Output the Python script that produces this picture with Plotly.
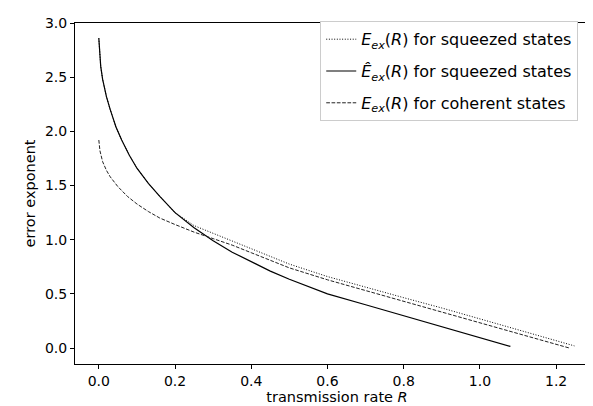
import plotly.graph_objects as go

# E_hat_ex(R) for squeezed states (solid)
r_hat_sq = [0, 0.002, 0.005, 0.01, 0.02, 0.03, 0.045, 0.06, 0.08, 0.1, 0.13, 0.16, 0.2, 0.25, 0.3, 0.35, 0.4, 0.45, 0.5, 0.55, 0.6, 0.7, 0.8, 0.9, 1.0, 1.08]
e_hat_sq = [2.86, 2.72, 2.6, 2.48, 2.32, 2.2, 2.04, 1.92, 1.78, 1.66, 1.52, 1.40, 1.25, 1.11, 0.99, 0.885, 0.795, 0.71, 0.635, 0.565, 0.50, 0.40, 0.298, 0.196, 0.094, 0.015]

# E_ex(R) for squeezed states (dotted)
r_sq = [0, 0.002, 0.005, 0.01, 0.02, 0.03, 0.045, 0.06, 0.08, 0.1, 0.13, 0.16, 0.2, 0.25, 0.3, 0.35, 0.4, 0.45, 0.5, 0.6, 0.7, 0.8, 0.9, 1.0, 1.1, 1.2, 1.248]
e_sq = [2.86, 2.72, 2.6, 2.48, 2.32, 2.2, 2.04, 1.92, 1.78, 1.66, 1.52, 1.40, 1.25, 1.13, 1.06, 0.985, 0.915, 0.845, 0.775, 0.66, 0.56, 0.465, 0.37, 0.27, 0.17, 0.07, 0.02]

# E_ex(R) for coherent states (dashed)
r_coh = [0, 0.003, 0.01, 0.02, 0.03, 0.05, 0.075, 0.1, 0.13, 0.16, 0.2, 0.25, 0.3, 0.35, 0.4, 0.45, 0.5, 0.6, 0.7, 0.8, 0.9, 1.0, 1.1, 1.2, 1.235]
e_coh = [1.92, 1.82, 1.72, 1.64, 1.58, 1.49, 1.40, 1.33, 1.26, 1.20, 1.14, 1.07, 1.01, 0.95, 0.88, 0.81, 0.74, 0.63, 0.53, 0.43, 0.33, 0.23, 0.13, 0.035, 0.0]

x_ticks = [0.0, 0.2, 0.4, 0.6, 0.8, 1.0, 1.2]
y_ticks = [0.0, 0.5, 1.0, 1.5, 2.0, 2.5, 3.0]

FONT = "DejaVu Sans"
FS_TICK = 14
FS_TITLE = 14.5
FS_LEG = 16

fig = go.Figure()
fig.add_trace(go.Scatter(
    x=r_sq, y=e_sq, mode="lines", legendgroup="a",
    name="<i>E</i><sub><i>ex</i></sub>(<i>R</i>) for squeezed states",
    line=dict(color="black", width=1, dash="1px,1.65px")))
fig.add_trace(go.Scatter(
    x=r_hat_sq, y=e_hat_sq, mode="lines", legendgroup="b",
    name="<i>Ê</i><sub><i>ex</i></sub>(<i>R</i>) for squeezed states",
    line=dict(color="black", width=1.2)))
fig.add_trace(go.Scatter(
    x=r_coh, y=e_coh, mode="lines", legendgroup="c",
    name="<i>E</i><sub><i>ex</i></sub>(<i>R</i>) for coherent states",
    line=dict(color="#222222", width=1, dash="3.7px,1.6px")))

axis_common = dict(
    showline=True, linecolor="black", linewidth=1, mirror=True,
    ticks="outside", ticklen=4, tickwidth=1, tickcolor="black",
    showgrid=False, zeroline=False, tickformat=".1f",
    tickfont=dict(family=FONT, size=FS_TICK, color="black"),
)

fig.update_layout(
    width=593, height=406,
    margin=dict(l=67, r=2, t=15, b=50),
    paper_bgcolor="white", plot_bgcolor="white",
    font=dict(family=FONT, size=FS_TICK, color="black"),
    xaxis=dict(range=[-0.0625, 1.3125], tickvals=x_ticks,
               title=dict(text="transmission rate <i>R</i>", standoff=1,
                          font=dict(family=FONT, size=FS_TITLE)),
               **axis_common),
    yaxis=dict(range=[-0.147, 3.0], tickvals=y_ticks,
               title=dict(text="error exponent", standoff=5,
                          font=dict(family=FONT, size=FS_TITLE)),
               **axis_common),
    legend=dict(x=0.468, y=1.005, xanchor="left", yanchor="top",
                bordercolor="#cccccc", borderwidth=1, bgcolor="white",
                font=dict(family=FONT, size=FS_LEG), tracegroupgap=8,
                entrywidth=258, entrywidthmode="pixels", itemwidth=30),
    showlegend=True,
)

fig.write_html("out.html")
